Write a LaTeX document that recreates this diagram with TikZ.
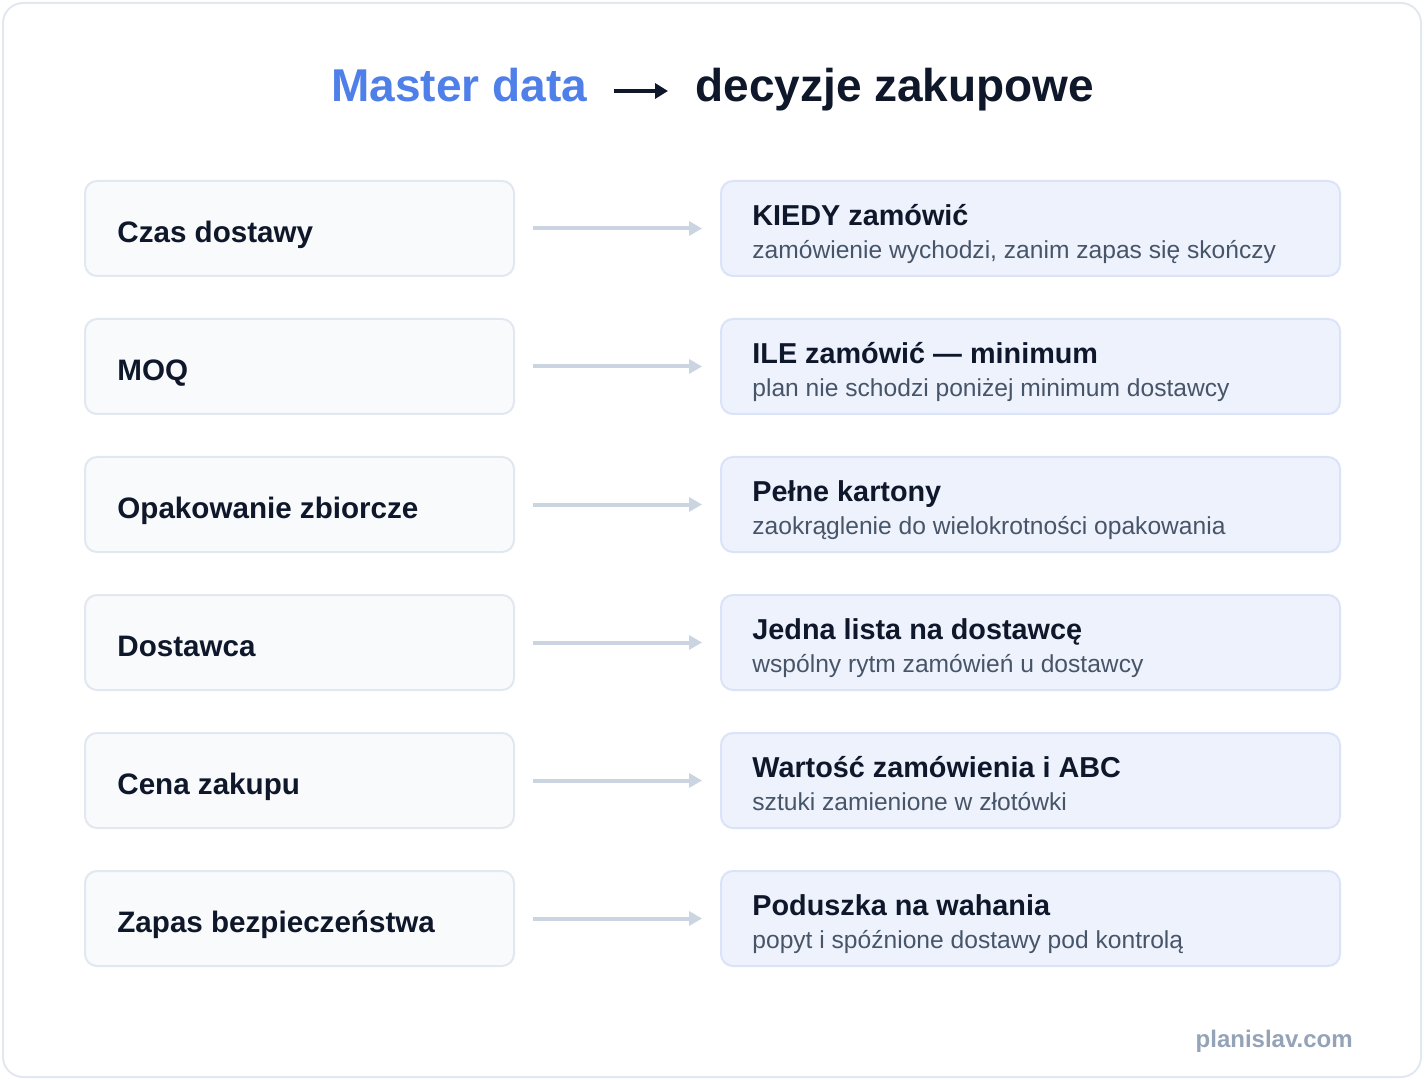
\documentclass[tikz,border=0pt]{standalone}
\usepackage{fontspec}
\setmainfont{Liberation Sans}
\usepackage{tikz}
\usetikzlibrary{arrows.meta}
\definecolor{ink}{HTML}{0F172A}
\definecolor{titleblue}{HTML}{4F7FE8}
\definecolor{frameline}{HTML}{E2E8F0}
\definecolor{srcfill}{HTML}{F8FAFC}
\definecolor{dstfill}{HTML}{EEF2FD}
\definecolor{dstline}{HTML}{DBE3F8}
\definecolor{subgrey}{HTML}{475569}
\definecolor{linkgrey}{HTML}{CBD5E1}
\definecolor{footgrey}{HTML}{94A3B8}

\begin{document}
\begin{tikzpicture}[x=0.5pt,y=-0.5pt,
  srcbox/.style={draw=frameline,fill=srcfill,line width=1pt,rounded corners=6pt,minimum width=214.5pt,minimum height=47.5pt,inner sep=0pt},
  dstbox/.style={draw=dstline,fill=dstfill,line width=1pt,rounded corners=6pt,minimum width=309.5pt,minimum height=47.5pt,inner sep=0pt},
  srctext/.style={anchor=base west,inner sep=0pt,text=ink,font=\fontsize{14.8}{17}\selectfont\bfseries},
  headtext/.style={anchor=base west,inner sep=0pt,text=ink,font=\fontsize{14.4}{17}\selectfont\bfseries},
  subtext/.style={anchor=base west,inner sep=0pt,text=subgrey,font=\fontsize{12.3}{14}\selectfont},
  link/.style={draw=linkgrey,line width=2pt,-{Triangle[length=6.5pt,width=7pt]},shorten <=9pt,shorten >=9pt},
  headline/.style={anchor=base west,inner sep=0pt,font=\fontsize{23}{28}\selectfont\bfseries}]
\useasboundingbox (0,0) rectangle (1424,1080);
\draw[draw=frameline,fill=white,line width=1pt,rounded corners=10pt] (3,3) rectangle (1421,1077);
\node[headline,text=titleblue] (master) at (331,102) {Master data};
\node[headline,text=ink] (decyzje) at (695,102) {decyzje zakupowe};
\draw[ink,line width=2pt,-{Triangle[length=6.5pt,width=7.5pt]},shorten <=13.5pt,shorten >=13.5pt]
  ([yshift=5.5pt]master.base east) -- ([yshift=5.5pt]decyzje.base west);
\foreach \src/\head/\sub [count=\k from 0] in {
  Czas dostawy/KIEDY zamówić/{zamówienie wychodzi, zanim zapas się skończy},
  MOQ/ILE zamówić — minimum/plan nie schodzi poniżej minimum dostawcy,
  Opakowanie zbiorcze/Pełne kartony/zaokrąglenie do wielokrotności opakowania,
  Dostawca/Jedna lista na dostawcę/wspólny rytm zamówień u dostawcy,
  Cena zakupu/Wartość zamówienia i ABC/sztuki zamienione w złotówki,
  Zapas bezpieczeństwa/Poduszka na wahania/popyt i spóźnione dostawy pod kontrolą}{
  \pgfmathsetmacro\yc{228.5+138*\k}
  \node[srcbox] (src\k) at (299.5,\yc) {};
  \node[dstbox] (dst\k) at (1030.5,\yc) {};
  \node[srctext] (srclabel\k) at (117,\yc+14) {\src};
  \node[headtext] (dsthead\k) at (752,\yc-3) {\head};
  \node[subtext] (dstsub\k) at (752,\yc+30) {\sub};
  \draw[link] (src\k) -- (dst\k);
}
\node[anchor=base east,inner sep=0pt,text=footgrey,font=\fontsize{12}{14}\selectfont\bfseries] (site) at (1353,1047) {planislav.com};
\end{tikzpicture}
\end{document}
